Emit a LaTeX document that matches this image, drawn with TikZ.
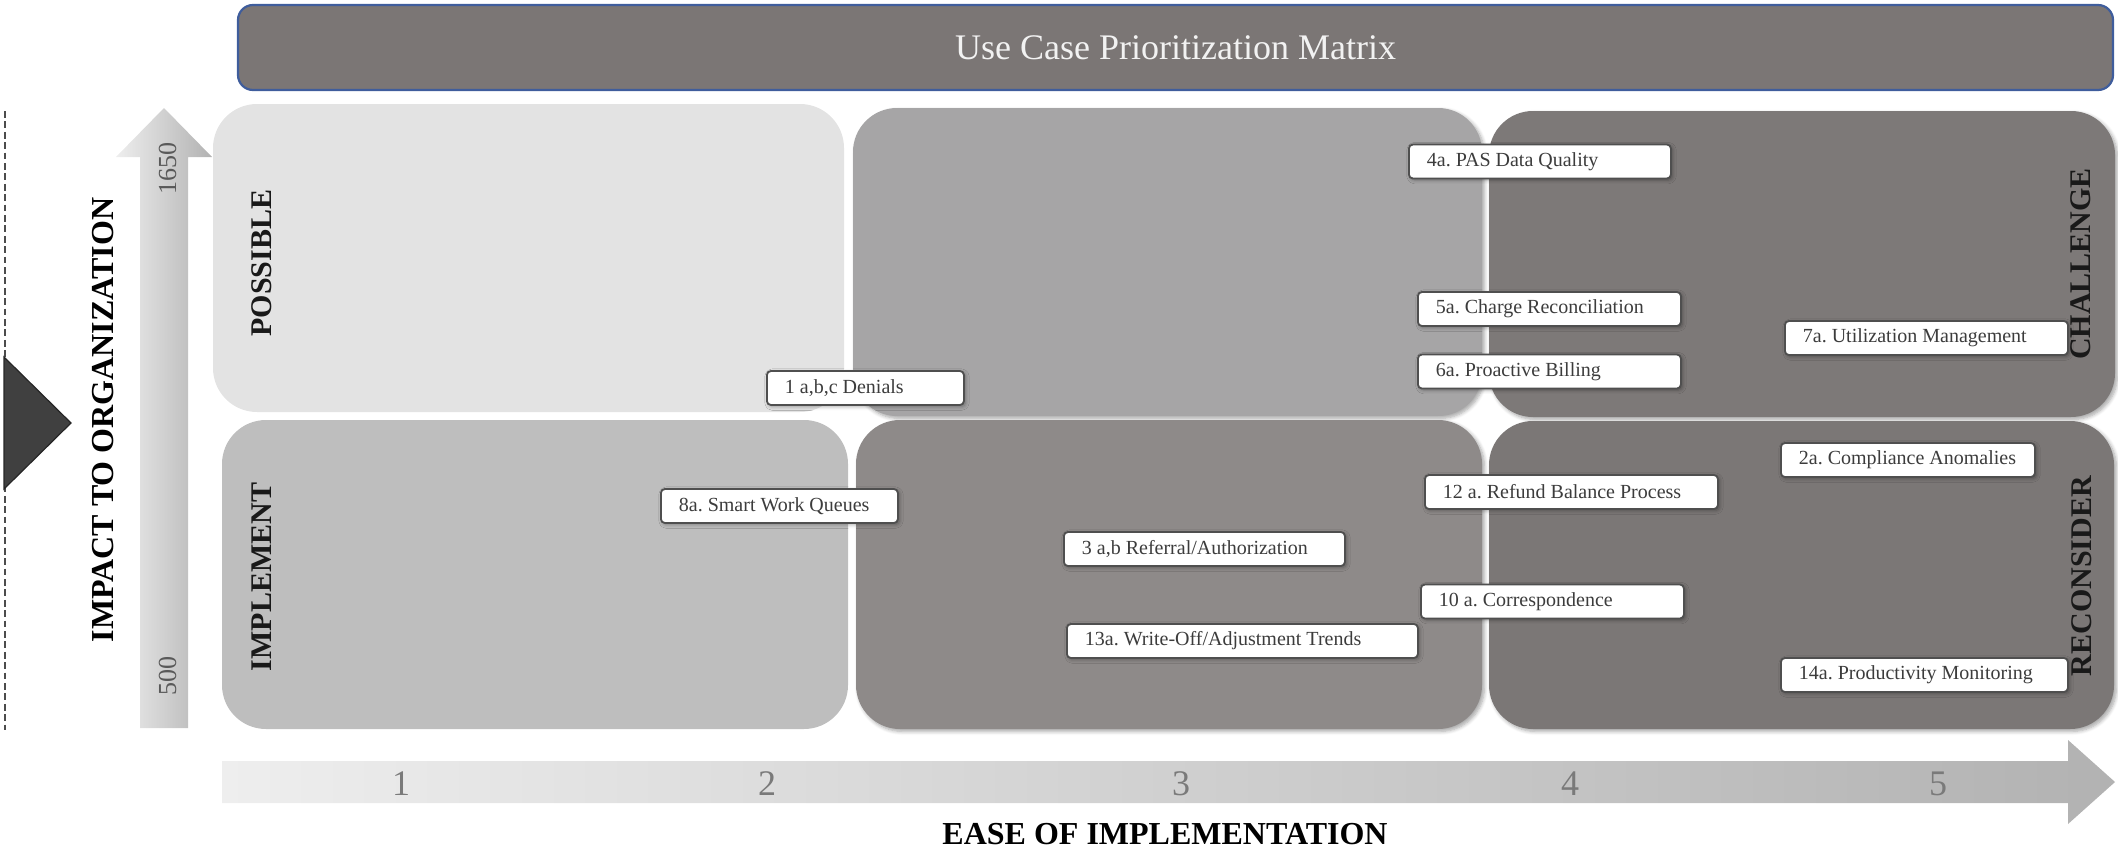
\documentclass[tikz,border=0pt]{standalone}
\usepackage{fontspec}
\setmainfont{Liberation Serif}
\usetikzlibrary{shadows.blur}

\definecolor{titlefill}{HTML}{7B7675}
\definecolor{titleedge}{HTML}{3F5D9C}
\definecolor{qpossible}{HTML}{E3E3E3}
\definecolor{qtopmid}{HTML}{A6A5A6}
\definecolor{qchallenge}{HTML}{7D7978}
\definecolor{qimplement}{HTML}{BEBEBE}
\definecolor{qbotmid}{HTML}{8E8A89}
\definecolor{qreconsider}{HTML}{7B7776}
\definecolor{caseedge}{HTML}{4F4F4F}
\definecolor{casetext}{HTML}{3C3C3C}
\definecolor{axislight}{HTML}{EEEEEE}
\definecolor{axisdark}{HTML}{B2B2B2}
\definecolor{ticktext}{HTML}{7A7A7A}

% one-line, left-aligned label of fixed width
\newcommand\caseline[2]{\makebox[#1][l]{\frenchspacing #2}}

\begin{document}
\begin{tikzpicture}[x=0.5pt, y=-0.5pt,
  titlebar/.style={draw=titleedge, line width=1.1pt, fill=titlefill, rounded corners=7.5pt,
    inner sep=0pt, text=white!95!black, font=\fontsize{18}{20}\selectfont},
  quad/.style={rounded corners=22pt, inner sep=0pt},
  qshadow/.style={blur shadow={shadow xshift=1.2pt, shadow yshift=-1.2pt,
    shadow blur steps=6, shadow opacity=35}},
  quadlabel/.style={rotate=90, inner sep=0pt, text=black!90,
    font=\bfseries\fontsize{15}{18}\selectfont},
  case/.style={draw=caseedge, line width=0.9pt, fill=white, rounded corners=2pt,
    inner xsep=9pt, inner ysep=0pt, minimum height=17pt, anchor=west,
    text=casetext, font=\fontsize{10}{12}\selectfont,
    blur shadow={shadow xshift=0.8pt, shadow yshift=-0.8pt, shadow blur steps=4, shadow opacity=35}},
  tick/.style={text=ticktext, inner sep=0pt, font=\fontsize{18}{20}\selectfont},
  axistitle/.style={inner sep=0pt, text=black, font=\bfseries\fontsize{16}{18}\selectfont},
  scaletext/.style={rotate=90, inner sep=0pt, text=black!65, font=\fontsize{13}{15}\selectfont}
]
\useasboundingbox (0,0) rectangle (2118,851);

% title bar
\node[titlebar, minimum width=937.5pt, minimum height=42.5pt] (title) at (1175.5,47.5)
  {Use Case Prioritization Matrix};

% the six quadrants
\node[quad, fill=qpossible, minimum width=315.5pt, minimum height=154pt] (possible) at (528.5,258) {};
\node[quad, qshadow, fill=qtopmid, minimum width=314.5pt, minimum height=154pt] (topmid) at (1167.5,262) {};
\node[quad, qshadow, fill=qchallenge, minimum width=313pt, minimum height=153pt] (challenge) at (1802,264) {};
\node[quad, fill=qimplement, minimum width=313pt, minimum height=154.5pt] (implement) at (535,574.5) {};
\node[quad, qshadow, fill=qbotmid, minimum width=313pt, minimum height=154.5pt] (botmid) at (1169,574.5) {};
\node[quad, qshadow, fill=qreconsider, minimum width=312.5pt, minimum height=154pt] (reconsider) at (1801.5,575) {};

% quadrant labels
\node[quadlabel] (lpossible) at (262,263) {POSSIBLE};
\node[quadlabel] (limplement) at (262,577) {IMPLEMENT};
\node[quadlabel] (lchallenge) at (2081,264) {CHALLENGE};
\node[quadlabel] (lreconsider) at (2082,576) {RECONSIDER};

% vertical impact arrow
\shade[left color=axislight, right color=axisdark]
  (140,728) -- (140,157) -- (116,157) -- (164,108) -- (212,157) -- (188,157) -- (188,728) -- cycle;
\node[scaletext] (s1650) at (167.5,168) {1650};
\node[scaletext] (s500) at (167.5,676) {500};
\node[axistitle, rotate=90] (impact) at (103,420) {IMPACT TO ORGANIZATION};

% dashed marker line and pointer
\coordinate (dtop) at (5,111);
\coordinate (dbot) at (5,730);
\draw[black!70, line width=1.4pt, dash pattern=on 3.4pt off 1.8pt] (dtop) -- (dbot);
\filldraw[fill=black!75, draw=black!85, line width=0.6pt] (4,357) -- (71,423) -- (4,489) -- cycle;

% horizontal ease arrow
\shade[left color=axislight, right color=axisdark]
  (222,761) -- (2068,761) -- (2068,740) -- (2115,782) -- (2068,824) -- (2068,803) -- (222,803) -- cycle;
\node[tick] (t1) at (401,784) {1};
\node[tick] (t2) at (767,784) {2};
\node[tick] (t3) at (1181,784) {3};
\node[tick] (t4) at (1570,784) {4};
\node[tick] (t5) at (1938,784) {5};
\node[axistitle] (ease) at (1165,834) {EASE OF IMPLEMENTATION};

% use cases
\node[case] (c4a) at (1408,161.5) {\caseline{113pt}{4a. PAS Data Quality}};
\node[case] (c5a) at (1417,309) {\caseline{113.5pt}{5a. Charge Reconciliation}};
\node[case] (c6a) at (1417,371.5) {\caseline{113.5pt}{6a. Proactive Billing}};
\node[case] (c7a) at (1784,338) {\caseline{123.5pt}{7a. Utilization Management}};
\node[case] (c1) at (766,388) {\caseline{80.5pt}{1 a,b,c Denials}};
\node[case] (c8a) at (660,506) {\caseline{100.5pt}{8a. Smart Work Queues}};
\node[case] (c3) at (1063,549) {\caseline{122.5pt}{3 a,b Referral/Authorization}};
\node[case] (c13a) at (1066,641) {\caseline{157.5pt}{13a. Write-Off/Adjustment Trends}};
\node[case] (c12a) at (1424,492) {\caseline{128.5pt}{12 a. Refund Balance Process}};
\node[case] (c10a) at (1420,601.5) {\caseline{113.5pt}{10 a. Correspondence}};
\node[case] (c2a) at (1780,460) {\caseline{109pt}{2a. Compliance Anomalies}};
\node[case] (c14a) at (1780,675) {\caseline{125.5pt}{14a. Productivity Monitoring}};
\end{tikzpicture}
\end{document}
